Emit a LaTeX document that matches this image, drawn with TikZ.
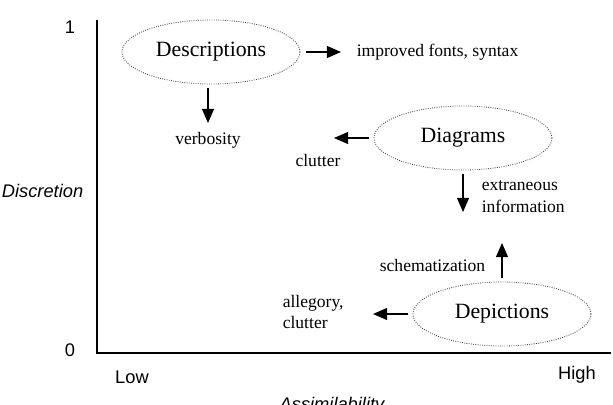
\documentclass[tikz,border=0pt]{standalone}
\usepackage{fontspec}
\setmainfont{Liberation Serif}
\setsansfont{Liberation Sans}
\usetikzlibrary{arrows.meta}
\usetikzlibrary{shapes.geometric}

\begin{document}
\begin{tikzpicture}[line width=0.5pt,
    kind/.style={ellipse, draw=black!75, densely dotted, line width=0.6pt,
        minimum width=4.45cm, minimum height=1.6cm, inner sep=0pt,
        font=\fontsize{15.5}{18}\selectfont},
    effect/.style={inner sep=1pt, align=left, font=\fontsize{12.5}{15.5}\selectfont},
    axislabel/.style={inner sep=0pt, font=\sffamily\fontsize{13}{15}\selectfont},
    axisname/.style={inner sep=0pt, font=\sffamily\itshape\fontsize{13}{15}\selectfont},
    push/.style={-{Triangle[length=10pt,width=8.5pt]}, line width=0.8pt}]

\useasboundingbox (0,0) rectangle (15.325,10.1);

% axes
\coordinate (top) at (2.425,9.6);
\coordinate (origin) at (2.425,1.275);
\coordinate (right) at (15.275,1.275);
\draw[line width=0.8pt] (top) -- (origin) -- (right);
\node[axislabel] (one) at (1.75,9.425) {1};
\node[axislabel] (zero) at (1.75,1.35) {0};
\node[axislabel] (low) at (3.3,0.675) {Low};
\node[axislabel] (high) at (14.425,0.725) {High};
\node[axisname, anchor=west] (discretion) at (0.04,5.325) {Discretion};
\node[axisname] (assim) at (8.3,-0.05) {Assimilability};

% the three kinds of representation
\node[kind] (desc) at (5.275,8.8) {Descriptions};
\node[kind] (diag) at (11.575,6.65) {Diagrams};
\node[kind] (dep) at (12.55,2.25) {Depictions};

% what follows from each
\node[effect, anchor=west] (improved) at (8.875,8.8) {improved fonts, syntax};
\node[effect] (verb) at (5.2,6.6) {verbosity};
\node[effect] (clutter) at (7.95,6.1) {clutter};
\node[effect, anchor=west] (extra) at (12.0,5.175) {extraneous\\information};
\node[effect, anchor=east] (schem) at (12.175,3.475) {schematization};
\node[effect, anchor=west] (alleg) at (7.025,2.3) {allegory,\\clutter};

\coordinate (clutterTip) at (8.35,6.65);
\coordinate (extraTip) at (11.575,4.8);
\coordinate (schemTip) at (12.55,4.025);
\coordinate (allegTip) at (9.325,2.25);

\draw[push, shorten <=0.15cm, shorten >=0.35cm] (desc.east) -- (improved.west);
\draw[push, shorten <=0.1cm, shorten >=0.18cm] (verb |- desc.south) -- (verb.north);
\draw[push, shorten <=0.125cm] (diag.west) -- (clutterTip);
\draw[push, shorten <=0.1cm] (diag.south) -- (extraTip);
\draw[push, shorten <=0.1cm] (dep.north) -- (schemTip);
\draw[push, shorten <=0.125cm] (dep.west) -- (allegTip);
\end{tikzpicture}
\end{document}
